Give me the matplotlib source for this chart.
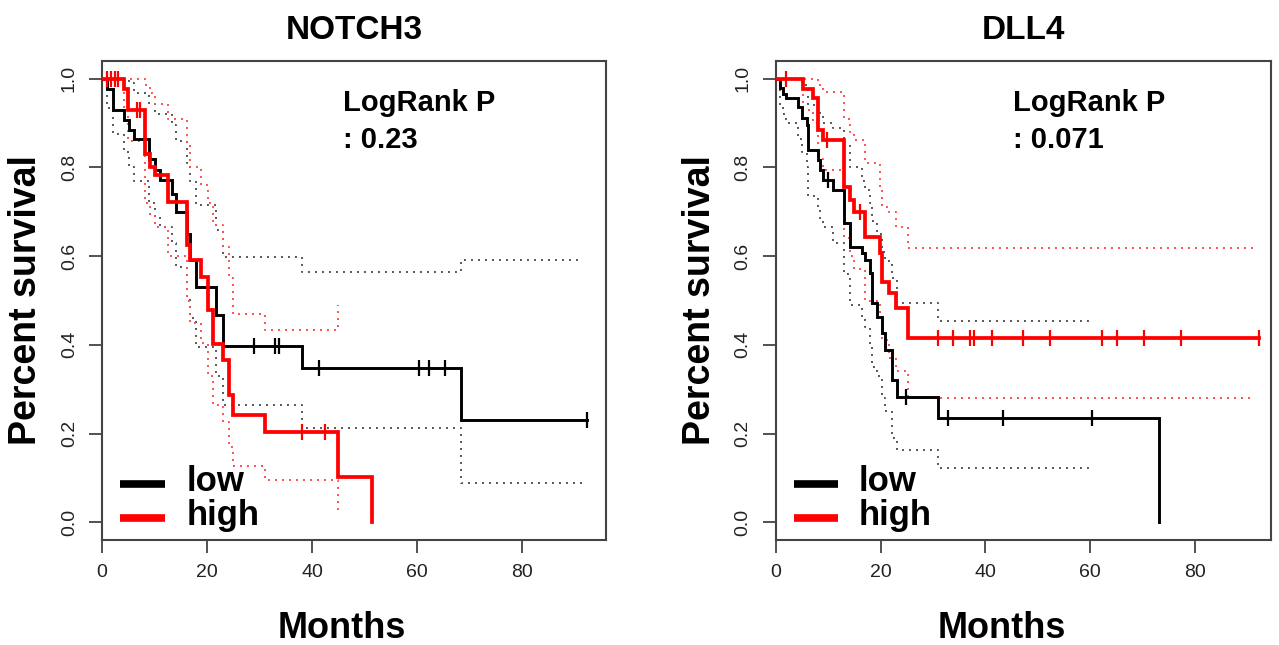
"""
Kaplan-Meier survival curves for NOTCH3 and DLL4 (low vs high expression).
Values read off the reference figure.
"""

import matplotlib
matplotlib.use("Agg")
import matplotlib.pyplot as plt

plt.rcParams['font.family'] = ['Liberation Sans', 'DejaVu Sans']

# === DATA ================================================================== #

# ---- NOTCH3, low expression (black)
notch3_low_t = [0, 0.9, 2.0, 4.1, 5.2, 6.0, 9.0, 10.1, 11.0, 13.3, 14.1, 16.2,
                16.8, 17.9, 21.8, 23.1, 38.0, 68.3]
notch3_low_s = [1.0, 0.976, 0.930, 0.908, 0.884, 0.864, 0.818, 0.794, 0.771,
                0.741, 0.700, 0.651, 0.591, 0.531, 0.467, 0.397, 0.348, 0.230]
notch3_low_end = 92.3
notch3_low_cens = [29.0, 33.0, 33.8, 41.3, 60.3, 62.2, 65.3, 92.3]

notch3_low_up_t = [0, 5.2, 6.0, 9.0, 10.1, 13.3, 14.1, 16.2, 16.8, 17.9, 21.8,
                   23.1, 38.0, 68.3]
notch3_low_up_s = [1.0, 0.99, 0.968, 0.944, 0.920, 0.895, 0.860, 0.810, 0.770,
                   0.715, 0.658, 0.598, 0.564, 0.591]
notch3_low_up_end = 91.4

notch3_low_lo_t = notch3_low_t
notch3_low_lo_s = [1.0, 0.935, 0.875, 0.835, 0.80, 0.77, 0.72, 0.69, 0.665,
                   0.63, 0.575, 0.51, 0.46, 0.395, 0.33, 0.264, 0.213, 0.0895]
notch3_low_lo_end = 92.3

# ---- NOTCH3, high expression (red)
notch3_high_t = [0, 4.1, 5.0, 8.2, 9.1, 10.1, 12.6, 16.2, 16.8, 18.9, 20.2,
                 21.2, 23.1, 24.1, 25.0, 31.0, 45.0, 51.4]
notch3_high_s = [1.0, 0.976, 0.929, 0.831, 0.801, 0.782, 0.722, 0.625, 0.591,
                 0.553, 0.478, 0.403, 0.365, 0.286, 0.241, 0.204, 0.102, 0.0]
notch3_high_end = 51.4
notch3_high_cens = [0.9, 1.65, 2.5, 3.1, 6.6, 7.2, 38.0, 42.5]

notch3_high_up_t = [0, 8.2, 9.1, 10.1, 12.6, 16.2, 16.8, 18.9, 20.2, 21.2,
                    23.1, 24.1, 25.0, 31.0, 45.0]
notch3_high_up_s = [1.0, 0.985, 0.967, 0.944, 0.91, 0.85, 0.80, 0.76, 0.72,
                    0.67, 0.62, 0.55, 0.47, 0.433, 0.489]
notch3_high_up_end = 45.0

notch3_high_lo_t = [0, 4.1, 5.0, 8.2, 9.1, 10.1, 12.6, 16.2, 16.8, 18.9, 20.2,
                    21.2, 23.1, 24.1, 25.0, 31.0, 45.0]
notch3_high_lo_s = [1.0, 0.93, 0.86, 0.72, 0.69, 0.665, 0.60, 0.50, 0.45,
                    0.405, 0.33, 0.265, 0.225, 0.17, 0.127, 0.095, 0.027]
notch3_high_lo_end = 45.0

# ---- DLL4, low expression (black)
dll4_low_t = [0, 0.76, 1.4, 2.0, 4.3, 4.9, 5.9, 6.2, 8.1, 8.4, 9.0, 10.9, 13.0,
              14.1, 16.4, 17.0, 17.9, 18.3, 19.2, 20.2, 20.8, 22.1, 23.2, 31.0,
              73.1]
dll4_low_s = [1.0, 0.979, 0.966, 0.956, 0.937, 0.911, 0.896, 0.840, 0.817,
              0.795, 0.772, 0.749, 0.674, 0.621, 0.606, 0.591, 0.561, 0.494,
              0.463, 0.426, 0.388, 0.321, 0.283, 0.235, 0.0]
dll4_low_end = 73.1
dll4_low_cens = [9.9, 24.9, 32.8, 43.3, 60.3]

dll4_low_up_t = [0, 4.3, 4.9, 5.9, 6.2, 8.1, 8.4, 9.0, 10.9, 13.0, 14.1, 16.4,
                 17.0, 17.9, 18.3, 19.2, 20.2, 20.8, 22.1, 23.2, 31.0]
dll4_low_up_s = [1.0, 0.995, 0.985, 0.975, 0.94, 0.925, 0.915, 0.90, 0.89,
                 0.85, 0.80, 0.77, 0.75, 0.72, 0.68, 0.65, 0.61, 0.59, 0.55,
                 0.494, 0.454]
dll4_low_up_end = 60.0

dll4_low_lo_t = dll4_low_t[:-1]
dll4_low_lo_s = [1.0, 0.94, 0.92, 0.90, 0.865, 0.835, 0.80, 0.735, 0.705, 0.68,
                 0.665, 0.63, 0.56, 0.49, 0.46, 0.44, 0.40, 0.35, 0.33, 0.28,
                 0.25, 0.19, 0.162, 0.122]
dll4_low_lo_end = 60.0

# ---- DLL4, high expression (red)
dll4_high_t = [0, 5.2, 7.1, 7.95, 9.0, 13.0, 14.1, 14.9, 17.0, 19.85, 20.2,
               21.5, 23.0, 25.2]
dll4_high_s = [1.0, 0.977, 0.956, 0.885, 0.862, 0.757, 0.727, 0.700, 0.644,
               0.606, 0.542, 0.516, 0.482, 0.416]
dll4_high_end = 92.3
dll4_high_cens = [1.85, 9.7, 16.0, 31.0, 33.8, 37.0, 37.8, 41.3, 47.2, 52.3,
                  62.3, 65.2, 70.3, 77.3, 92.3]

dll4_high_up_t = [0, 7.95, 9.0, 13.0, 14.1, 14.9, 17.0, 19.85, 20.2, 21.5,
                  23.0, 25.2]
dll4_high_up_s = [1.0, 0.985, 0.97, 0.91, 0.88, 0.862, 0.81, 0.75, 0.71,
                  0.70, 0.665, 0.619]
dll4_high_up_end = 91.5

dll4_high_lo_t = dll4_high_t
dll4_high_lo_s = [1.0, 0.93, 0.90, 0.82, 0.795, 0.64, 0.60, 0.57, 0.50, 0.46,
                  0.41, 0.37, 0.34, 0.281]
dll4_high_lo_end = 91.3

PANELS = [
    {
        "title": "NOTCH3", "pval": ": 0.23", "xmax": 96.0,
        "low": (notch3_low_t, notch3_low_s, notch3_low_end, notch3_low_cens),
        "low_ci": [(notch3_low_up_t, notch3_low_up_s, notch3_low_up_end),
                   (notch3_low_lo_t, notch3_low_lo_s, notch3_low_lo_end)],
        "high": (notch3_high_t, notch3_high_s, notch3_high_end, notch3_high_cens),
        "high_ci": [(notch3_high_up_t, notch3_high_up_s, notch3_high_up_end),
                    (notch3_high_lo_t, notch3_high_lo_s, notch3_high_lo_end)],
    },
    {
        "title": "DLL4", "pval": ": 0.071", "xmax": 94.5,
        "low": (dll4_low_t, dll4_low_s, dll4_low_end, dll4_low_cens),
        "low_ci": [(dll4_low_up_t, dll4_low_up_s, dll4_low_up_end),
                   (dll4_low_lo_t, dll4_low_lo_s, dll4_low_lo_end)],
        "high": (dll4_high_t, dll4_high_s, dll4_high_end, dll4_high_cens),
        "high_ci": [(dll4_high_up_t, dll4_high_up_s, dll4_high_up_end),
                    (dll4_high_lo_t, dll4_high_lo_s, dll4_high_lo_end)],
    },
]

BLACK = "#000000"
RED = "#ff0000"
BLACK_CI = "#555555"
RED_CI = "#ff5050"
AXIS_COL = "#444444"


# === HELPERS =============================================================== #

def step_xy(t, s, end):
    xs = list(t) + [end]
    ys = list(s) + [s[-1]]
    return xs, ys


def value_at(t, s, x):
    v = s[0]
    for ti, si in zip(t, s):
        if ti <= x:
            v = si
    return v


def draw_curve(ax, curve, color, lw):
    t, s, end, cens = curve
    xs, ys = step_xy(t, s, end)
    ax.step(xs, ys, where="post", color=color, lw=lw, solid_joinstyle="miter",
            zorder=3)
    cy = [value_at(t, s, c) for c in cens]
    ax.plot(cens, cy, linestyle="none", marker="|", markersize=11,
            markeredgewidth=1.6, color=color, zorder=4)


def draw_ci(ax, ci, color):
    for t, s, end in ci:
        xs, ys = step_xy(t, s, end)
        ax.step(xs, ys, where="post", color=color, lw=1.4,
                linestyle=(0, (1, 2.6)), zorder=2)


def draw_panel(ax, p):
    draw_ci(ax, p["low_ci"], BLACK_CI)
    draw_ci(ax, p["high_ci"], RED_CI)
    draw_curve(ax, p["low"], BLACK, 2.1)
    draw_curve(ax, p["high"], RED, 2.7)

    ax.set_xlim(0, p["xmax"])
    ax.set_ylim(-0.04, 1.04)
    ax.set_xticks([0, 20, 40, 60, 80])
    ax.set_yticks([0.0, 0.2, 0.4, 0.6, 0.8, 1.0])
    ax.set_yticklabels(["0.0", "0.2", "0.4", "0.6", "0.8", "1.0"],
                       rotation=90, va="center")
    ax.tick_params(axis="both", length=9.5, width=1.3, color=AXIS_COL,
                   labelsize=14, labelcolor="#222222", pad=8)
    for sp in ax.spines.values():
        sp.set_color(AXIS_COL)
        sp.set_linewidth(1.5)

    ax.set_title(p["title"], fontsize=24, fontweight="bold", pad=16)
    ax.set_ylabel("Percent survival", fontsize=27, fontweight="bold",
                  labelpad=12)

    # log-rank annotation
    ax.text(0.478, 0.912, "LogRank P", transform=ax.transAxes, fontsize=21,
            fontweight="bold", va="center", ha="left")
    ax.text(0.478, 0.835, p["pval"], transform=ax.transAxes, fontsize=21,
            fontweight="bold", va="center", ha="left")

    # legend drawn by hand: thick short segments + big bold labels
    for y, col, lab in [(0.117, BLACK, "low"), (0.046, RED, "high")]:
        ax.plot([0.036, 0.125], [y, y], transform=ax.transAxes, color=col,
                lw=5.5, solid_capstyle="butt", clip_on=False)
        ax.text(0.168, y + 0.005, lab, transform=ax.transAxes, fontsize=25,
                fontweight="bold", va="center", ha="left")


# === MAIN ================================================================== #

def main():
    fig = plt.figure(figsize=(12.79, 6.45), dpi=100)
    ax1 = fig.add_axes([0.0798, 0.1628, 0.394, 0.7426])
    ax2 = fig.add_axes([0.6067, 0.1628, 0.387, 0.7426])

    for ax, p in zip([ax1, ax2], PANELS):
        draw_panel(ax, p)

    fig.text(342 / 1279, 1 - 628 / 645, "Months", fontsize=26,
             fontweight="bold", ha="center", va="center")
    fig.text(1002 / 1279, 1 - 628 / 645, "Months", fontsize=26,
             fontweight="bold", ha="center", va="center")

    fig.savefig("out.png", dpi=100)


if __name__ == "__main__":
    main()
